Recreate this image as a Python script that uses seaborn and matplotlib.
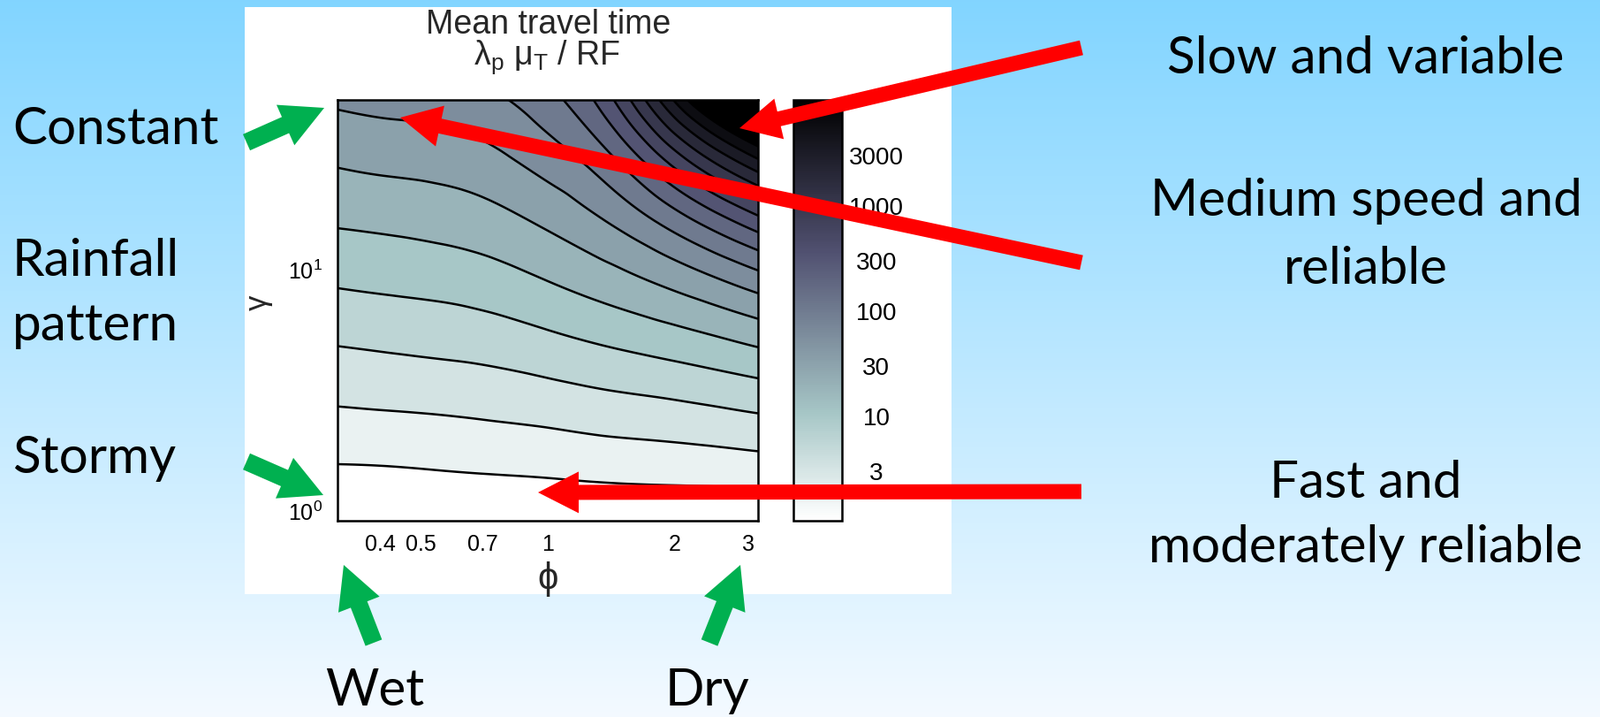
import numpy as np
import matplotlib
matplotlib.use("Agg")
import matplotlib.pyplot as plt
import matplotlib.ticker as mticker
import matplotlib.tri as mtri
from matplotlib.colors import LogNorm
from matplotlib.cm import ScalarMappable
from matplotlib.patches import FancyArrow, Rectangle
import seaborn as sns

# ---------------- data ----------------
phi_values = [0.316, 0.422, 0.562, 0.750, 1.000, 1.334, 1.778, 2.371, 3.162]
gamma_values = [0.891, 1.585, 2.818, 5.012, 8.913, 15.85, 28.18, 51.29]
# log10 of mean travel time (lambda_p mu_T / RF); rows follow gamma_values, columns phi_values
log10_travel_time = [
    [0.00, 0.00, 0.01, 0.02, 0.03, 0.03, 0.03, 0.02, 0.01],
    [0.26, 0.27, 0.29, 0.31, 0.33, 0.36, 0.38, 0.40, 0.43],
    [0.52, 0.54, 0.56, 0.59, 0.63, 0.68, 0.72, 0.77, 0.83],
    [0.77, 0.80, 0.83, 0.87, 0.94, 1.02, 1.10, 1.19, 1.30],
    [1.03, 1.06, 1.09, 1.15, 1.25, 1.37, 1.51, 1.68, 1.88],
    [1.28, 1.31, 1.35, 1.42, 1.55, 1.73, 1.99, 2.32, 2.67],
    [1.53, 1.57, 1.60, 1.69, 1.86, 2.12, 2.61, 3.19, 3.72],
    [1.80, 1.84, 1.87, 1.97, 2.17, 2.59, 3.41, 4.33, 5.00],
]
contour_levels_log10 = [0.25, 0.50, 0.75, 1.00, 1.25, 1.50, 1.75, 2.00, 2.25, 2.50,
                        2.75, 3.00, 3.25, 3.50, 3.75, 4.00, 4.25, 4.50, 4.75]
colorbar_ticks = [3, 10, 30, 100, 300, 1000, 3000]
colorbar_tick_labels = ["3", "10", "30", "100", "300", "1000", "3000"]
phi_ticks = [0.4, 0.5, 0.6, 0.7, 0.8, 0.9, 1, 2, 3]
phi_tick_labels = ["0.4", "0.5", "", "0.7", "", "", "1", "2", "3"]
gamma_ticks = [1, 10]

title_line1 = "Mean travel time"
title_line2 = r"$\lambda_\mathrm{p}\ \mu_\mathrm{T}$ / RF"
left_lines = ["Constant", "Rainfall", "pattern", "Stormy"]
right_lines = ["Slow and variable", "Medium speed and", "reliable", "Fast and", "moderately reliable"]
bottom_labels = ["Wet", "Dry"]

# ---------------- style ----------------
sns.set_theme(style="white")
plt.rcParams["font.family"] = ["Liberation Sans", "DejaVu Sans"]
plt.rcParams["mathtext.fontset"] = "custom"
plt.rcParams["mathtext.rm"] = "Liberation Sans"
plt.rcParams["mathtext.it"] = "Liberation Sans:italic"
plt.rcParams["mathtext.bf"] = "Liberation Sans:bold"
plt.rcParams["mathtext.default"] = "regular"

cmap = sns.color_palette("bone_r", as_cmap=True)
norm = LogNorm(vmin=1, vmax=1e4)

W, H = 1811, 812
fig = plt.figure(figsize=(W / 100, H / 100), dpi=100)


def frac(x0, y0, x1, y1):
    return [x0 / W, 1 - y1 / H, (x1 - x0) / W, (y1 - y0) / H]


# background gradient of the slide
bg = fig.add_axes([0, 0, 1, 1])
top_c = np.array([0.51, 0.835, 1.0])
bot_c = np.array([0.955, 0.98, 1.0])
t = np.linspace(0, 1, 256)[:, None, None]
grad = top_c[None, None, :] * (1 - t) + bot_c[None, None, :] * t
bg.imshow(grad, aspect="auto", extent=[0, 1, 0, 1], origin="upper")
bg.add_patch(Rectangle((277 / W, 1 - 673 / H), 800 / W, 664 / H,
                       transform=bg.transAxes, facecolor="white", edgecolor="none"))
bg.set_axis_off()

# ---------------- main contour plot ----------------
ax = fig.add_axes(frac(381.5, 113.5, 858, 590))
LPHI, LGAM = np.meshgrid(np.log10(phi_values), np.log10(gamma_values))
Z = np.array(log10_travel_time)
tri = mtri.Triangulation(LPHI.ravel(), LGAM.ravel())
tri_f, z_f = mtri.UniformTriRefiner(tri).refine_field(Z.ravel(), subdiv=4)
tri_plot = mtri.Triangulation(10 ** tri_f.x, 10 ** tri_f.y, tri_f.triangles)

fill_bounds = [-1.0] + [lv for lv in contour_levels_log10 if lv <= 4.0] + [7.0]
band_colors = [cmap(norm(10 ** max(lb, 0.0))) for lb in fill_bounds[:-1]]
ax.tricontourf(tri_plot, z_f, levels=fill_bounds, colors=band_colors)
ax.tricontour(tri_plot, z_f, levels=contour_levels_log10, colors="black", linewidths=1.8)
ax.set_xscale("log")
ax.set_yscale("log")
ax.set_xlim(10 ** -0.5, 10 ** 0.5)
ax.set_ylim(10 ** -0.044, 10 ** 1.703)
ax.set_xticks(phi_ticks, labels=phi_tick_labels)
ax.xaxis.set_minor_locator(mticker.NullLocator())
ax.set_yticks(gamma_ticks)
ax.yaxis.set_minor_locator(mticker.LogLocator(base=10, subs=np.arange(2, 10)))
ax.yaxis.set_minor_formatter(mticker.NullFormatter())
ax.tick_params(which="both", direction="in", top=True, right=True, colors="black",
               labelcolor="black")
ax.tick_params(which="major", length=6, width=1.2, labelsize=18)
ax.tick_params(which="minor", length=4, width=1.0)
ax.tick_params(axis="x", pad=10)
ax.tick_params(axis="y", pad=12)
for s in ax.spines.values():
    s.set_linewidth(1.8)
    s.set_color("black")
    s.set_visible(True)
ax.set_xlabel("ϕ", fontsize=30, family=["Liberation Sans", "DejaVu Sans"])
ax.xaxis.set_label_coords(0.5, -0.136)
ax.xaxis.label.set_va("center")
ax.set_ylabel("γ", fontsize=25)
ax.yaxis.set_label_coords(-0.186, 0.52)
ax.yaxis.label.set_va("center")

# ---------------- colorbar ----------------
cax = fig.add_axes(frac(898, 113.5, 953, 590))
sm = ScalarMappable(norm=norm, cmap=cmap)
cb = fig.colorbar(sm, cax=cax)
cb.set_ticks(colorbar_ticks)
cb.set_ticklabels(colorbar_tick_labels)
cax.yaxis.set_minor_locator(mticker.NullLocator())
cax.tick_params(which="major", direction="in", left=True, right=True, length=5,
                width=1.2, labelsize=20, pad=28, colors="black", labelcolor="black")
for lab in cax.get_yticklabels():
    lab.set_horizontalalignment("center")
cb.outline.set_linewidth(1.8)
cb.outline.set_edgecolor("black")

# titles
fig.text(620.5 / W, 1 - 38 / H, title_line1, ha="center", va="baseline", fontsize=27)
fig.text(619 / W, 1 - 73 / H, title_line2, ha="center", va="baseline", fontsize=27)

# ---------------- slide overlay: texts and arrows ----------------
ov = fig.add_axes([0, 0, 1, 1])
ov.set_xlim(0, W)
ov.set_ylim(H, 0)
ov.set_axis_off()
ov.patch.set_alpha(0)

slide_font = dict(family=["Lato", "DejaVu Sans"], fontsize=42, color="black", va="baseline")
for txt, yb in zip(left_lines, [163, 312, 385, 535]):
    ov.text(14, yb, txt, ha="left", **slide_font)
for txt, yb in zip(right_lines, [83, 244, 321, 563, 636]):
    ov.text(1546, yb, txt, ha="center", **slide_font)
ov.text(424, 798, bottom_labels[0], ha="center", **slide_font)
ov.text(801, 798, bottom_labels[1], ha="center", **slide_font)


def arrow(tail, tip, w, hw, hl, color):
    ov.add_patch(FancyArrow(tail[0], tail[1], tip[0] - tail[0], tip[1] - tail[1],
                            width=w, head_width=hw, head_length=hl,
                            length_includes_head=True, color=color, lw=0))


green = "#00B050"
red = "#FF0000"
arrow((279, 162), (367, 123), 20, 50, 48, green)
arrow((279, 523), (366, 561), 20, 50, 48, green)
arrow((423, 728), (389, 640), 20, 50, 48, green)
arrow((803, 728), (838, 640), 20, 50, 48, green)
arrow((1224, 55), (837, 146), 17, 47, 46, red)
arrow((1224, 298), (453, 134), 17, 47, 46, red)
arrow((1224, 557), (609, 558), 17, 47, 46, red)

fig.savefig("out.png", dpi=100)
